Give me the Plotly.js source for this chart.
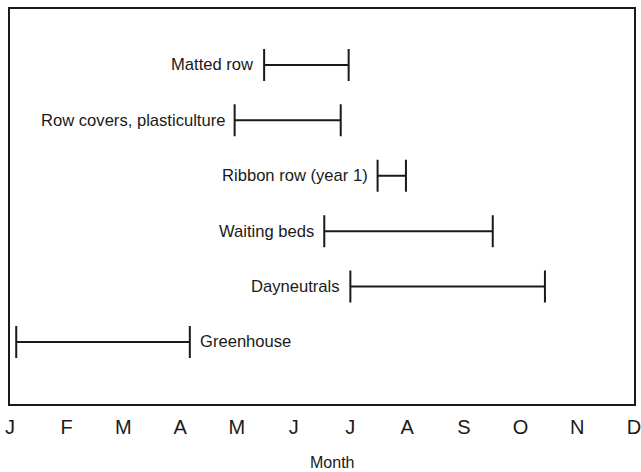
<!DOCTYPE html>
<html>
<head>
<meta charset="utf-8">
<script src="https://cdn.plot.ly/plotly-3.0.1.min.js"></script>
<style>
html,body{margin:0;padding:0;background:#fff;}
#chart{width:641px;height:472px;}
</style>
</head>
<body>
<div id="chart"></div>
<script>
// Month tick labels (J = January at 0 ... D = December at 11)
var monthLabels = ["J","F","M","A","M","J","J","A","S","O","N","D"];
var monthPositions = [0,1,2,3,4,5,6,7,8,9,10,11];

// Production systems, top to bottom
var systems = ["Matted row","Row covers, plasticulture","Ribbon row (year 1)","Waiting beds","Dayneutrals","Greenhouse"];
var rowIndex = [5,4,3,2,1,0];
// Season start and end, in months after start of January
var seasonStart = [4.48, 3.96, 6.48, 5.54, 6.00, 0.11];
var seasonEnd   = [5.97, 5.83, 6.98, 8.51, 9.43, 3.17];
// Which side the label sits on
var labelSide = ["left","left","left","left","left","right"];

var FONT = "'Liberation Sans', Arial, Helvetica, sans-serif";
var INK = "#1a1a1a";

var traces = [];
var annotations = [];
for (var i = 0; i < systems.length; i++) {
  var mid = (seasonStart[i] + seasonEnd[i]) / 2;
  var half = (seasonEnd[i] - seasonStart[i]) / 2;
  traces.push({
    type: "scatter",
    mode: "markers",
    x: [mid],
    y: [rowIndex[i]],
    marker: {size: 1, color: "rgba(0,0,0,0)"},
    error_x: {type: "data", symmetric: true, array: [half], color: INK, thickness: 2, width: 16},
    hoverinfo: "skip",
    showlegend: false
  });
  var left = labelSide[i] === "left";
  annotations.push({
    x: left ? seasonStart[i] : seasonEnd[i], y: rowIndex[i], xref: "x", yref: "y",
    text: systems[i], showarrow: false,
    xanchor: left ? "right" : "left", yanchor: "middle", xshift: left ? -8 : 8,
    font: {family: FONT, size: 16.6, color: INK}
  });
}
// x-axis title placed as in the reference (slightly right of centre, low)
annotations.push({
  x: 0.516, y: -0.149, xref: "paper", yref: "paper", text: "Month", showarrow: false,
  xanchor: "center", yanchor: "middle", font: {family: FONT, size: 16, color: INK}
});

var layout = {
  width: 641, height: 472,
  margin: {l: 10, r: 7, t: 9, b: 68},
  paper_bgcolor: "#fff", plot_bgcolor: "#fff",
  font: {family: FONT, size: 16, color: INK},
  xaxis: {
    range: [0, 11], tickmode: "array", tickvals: monthPositions, ticktext: monthLabels,
    showgrid: false, zeroline: false, showline: true, mirror: true, linecolor: INK, linewidth: 2,
    ticks: "", ticklabelstandoff: 4, ticklabeloverflow: "allow",
    tickfont: {family: FONT, size: 20, color: INK}, fixedrange: true
  },
  yaxis: {
    range: [-1.12, 6.01], showticklabels: false, showgrid: false, zeroline: false,
    showline: true, mirror: true, linecolor: INK, linewidth: 2, ticks: "", fixedrange: true
  },
  annotations: annotations,
  showlegend: false
};

Plotly.newPlot("chart", traces, layout, {displayModeBar: false, staticPlot: true});
</script>
</body>
</html>
